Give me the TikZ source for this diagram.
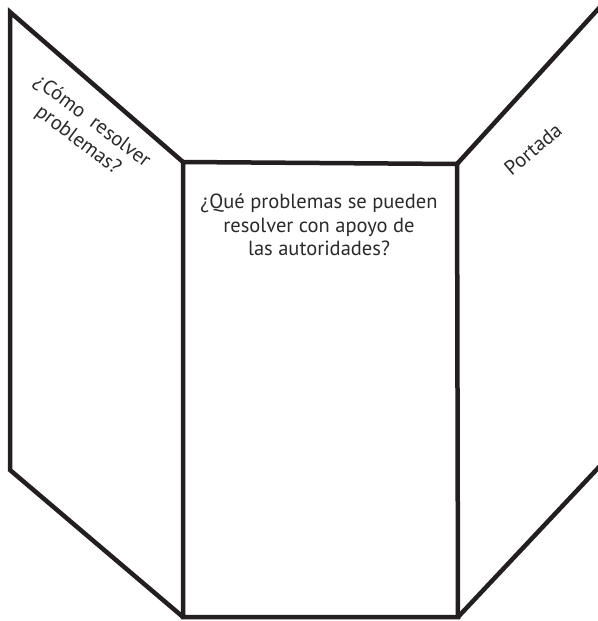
\documentclass[tikz,border=0pt]{standalone}
\usepackage{fontspec}
\setmainfont{PT Sans}
\definecolor{ink}{HTML}{231F20}
\definecolor{txt}{HTML}{2A2A2A}
\begin{document}
\begin{tikzpicture}[x=1pt,y=-1pt,
  panel/.style={draw=ink,line width=4.5pt,line join=miter},
  lbl/.style={text=txt,font=\fontsize{20.5}{23.5}\selectfont,align=center,inner sep=0pt}]
\useasboundingbox (0,0) rectangle (597,621);
% corners
\coordinate (LT) at (10,12);
\coordinate (LB) at (10,470);
\coordinate (CTL) at (183,162);
\coordinate (CTR) at (457,164);
\coordinate (CBL) at (183,617);
\coordinate (CBR) at (458,617);
\coordinate (RT) at (600,7);
\coordinate (RB) at (600,466);
\draw[panel] (CTL) -- (LT) -- (LB) -- (CBL);
\draw[panel] (CTL) -- (CTR) -- (CBR) -- (CBL) -- cycle;
\draw[panel] (RT) -- (CTR);
\draw[panel] (RB) -- (CBR);
\node[lbl,rotate=-37] (left) at (85,131) {¿Cómo\ \ resolver\\problemas?};
\node[lbl,rotate=40] (right) at (533,149) {Portada};
\node[lbl] (center) at (319,225) {¿Qué problemas se pueden\\resolver con apoyo de\\las autoridades?};
\end{tikzpicture}
\end{document}
